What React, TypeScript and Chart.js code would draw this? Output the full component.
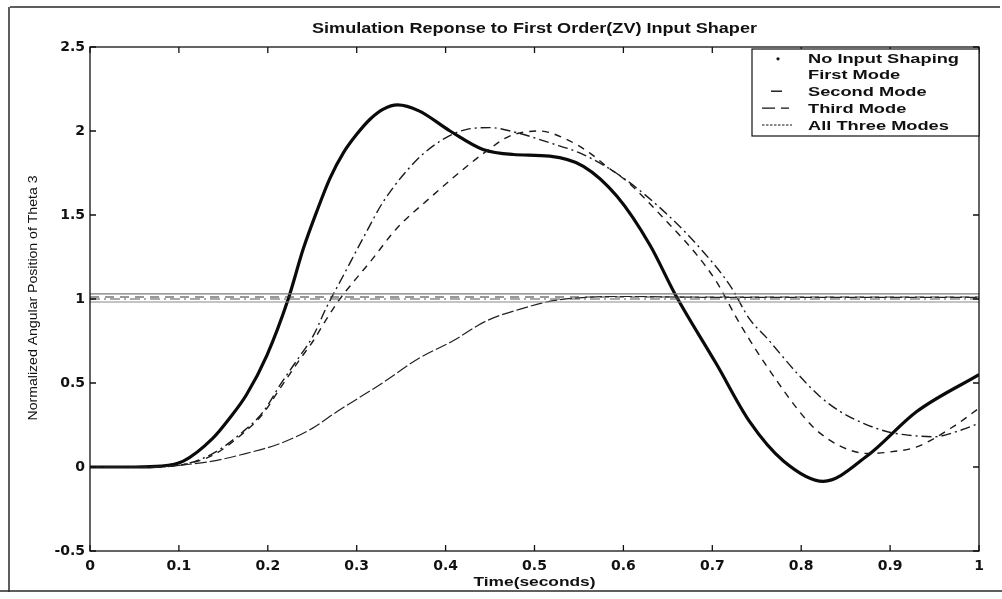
import React, { useEffect, useRef } from "react";
import { Chart, registerables } from "chart.js";

Chart.register(...registerables);

// ---------- text ----------
const titleText = "Simulation Reponse to First Order(ZV) Input Shaper";
const xAxisTitle = "Time(seconds)";
const yAxisTitle = "Normalized Angular Position of Theta 3";
const legendLabels = ["No Input Shaping", "First Mode", "Second Mode", "Third Mode", "All Three Modes"];

// ---------- tick labels ----------
const xTickLabels = ["0", "0.1", "0.2", "0.3", "0.4", "0.5", "0.6", "0.7", "0.8", "0.9", "1"];
const yTickLabels = ["-0.5", "0", "0.5", "1", "1.5", "2", "2.5"];

// ---------- series: No Input Shaping (thick) ----------
const noShapingT = [0, 0.05, 0.08, 0.105, 0.138, 0.157, 0.176, 0.199, 0.223, 0.24, 0.255, 0.27, 0.285, 0.3, 0.315, 0.33, 0.346, 0.37, 0.405, 0.442, 0.476, 0.517, 0.555, 0.593, 0.63, 0.658, 0.705, 0.742, 0.78, 0.825, 0.874, 0.93, 1.0];
const noShapingY = [0, 0, 0.005, 0.035, 0.17, 0.29, 0.43, 0.665, 1.0, 1.3, 1.52, 1.72, 1.87, 1.98, 2.07, 2.13, 2.155, 2.12, 2.0, 1.89, 1.86, 1.85, 1.79, 1.61, 1.32, 1.03, 0.61, 0.27, 0.036, -0.085, 0.065, 0.33, 0.55];

// ---------- series: Second Mode (dash-dot) ----------
const secondModeT = [0, 0.06, 0.1, 0.138, 0.172, 0.195, 0.214, 0.236, 0.251, 0.266, 0.285, 0.311, 0.33, 0.368, 0.397, 0.424, 0.45, 0.48, 0.517, 0.555, 0.6, 0.65, 0.69, 0.72, 0.742, 0.761, 0.795, 0.821, 0.844, 0.87, 0.897, 0.92, 0.95, 0.98, 1.0];
const secondModeY = [0, 0, 0.01, 0.08, 0.21, 0.33, 0.49, 0.66, 0.78, 0.95, 1.14, 1.4, 1.58, 1.83, 1.95, 2.01, 2.02, 1.99, 1.93, 1.86, 1.72, 1.5, 1.28, 1.08, 0.88, 0.77, 0.56, 0.42, 0.33, 0.26, 0.21, 0.19, 0.18, 0.22, 0.26];

// ---------- series: Third Mode (dashed) ----------
const thirdModeT = [0, 0.06, 0.1, 0.138, 0.172, 0.195, 0.214, 0.236, 0.251, 0.266, 0.281, 0.296, 0.315, 0.345, 0.382, 0.424, 0.446, 0.472, 0.506, 0.536, 0.562, 0.581, 0.604, 0.649, 0.683, 0.705, 0.728, 0.75, 0.773, 0.795, 0.813, 0.832, 0.855, 0.875, 0.9, 0.93, 0.971, 1.0];
const thirdModeY = [0, 0, 0.01, 0.07, 0.2, 0.32, 0.47, 0.64, 0.75, 0.88, 1.0, 1.1, 1.22, 1.42, 1.6, 1.79, 1.88, 1.97, 2.0, 1.95, 1.87, 1.79, 1.7, 1.46, 1.26, 1.1, 0.88, 0.69, 0.51, 0.35, 0.24, 0.16, 0.1, 0.08, 0.09, 0.12, 0.24, 0.35];

// ---------- series: All Three Modes (thin, slow) ----------
const allModesT = [0, 0.07, 0.1, 0.138, 0.175, 0.214, 0.25, 0.278, 0.326, 0.371, 0.408, 0.446, 0.484, 0.521, 0.559, 0.6, 0.7, 0.8, 0.9, 1.0];
const allModesY = [0, 0, 0.01, 0.035, 0.08, 0.14, 0.23, 0.33, 0.49, 0.65, 0.75, 0.87, 0.94, 0.99, 1.01, 1.015, 1.01, 1.01, 1.01, 1.01];

// ---------- horizontal band near the final value ----------
const bandT = [0, 1];
const bandLevels = [1.03, 1.012, 1.0, 0.982];

const toPts = (t: number[], y: number[]) => t.map((v, i) => ({ x: v, y: y[i] }));

function drawStretched(ctx: CanvasRenderingContext2D, text: string, x: number, y: number, scaleX: number) {
  ctx.save();
  ctx.translate(x, y);
  ctx.scale(scaleX, 1);
  ctx.fillText(text, 0, 0);
  ctx.restore();
}

const decorPlugin = {
  id: "decor",
  beforeDraw(chart: any) {
    const ctx: CanvasRenderingContext2D = chart.ctx;
    ctx.save();
    ctx.fillStyle = "#ffffff";
    ctx.fillRect(0, 0, chart.width, chart.height);
    // scanned page frame
    ctx.strokeStyle = "#2a2a2a";
    ctx.lineWidth = 1.5;
    ctx.beginPath();
    ctx.moveTo(10, 7);
    ctx.lineTo(1000, 7);
    ctx.moveTo(9, 7);
    ctx.lineTo(9, 592);
    ctx.moveTo(0, 591);
    ctx.lineTo(1002, 591);
    ctx.stroke();
    ctx.restore();
  },
  afterDraw(chart: any) {
    const ctx: CanvasRenderingContext2D = chart.ctx;
    const { left, right, top, bottom } = chart.chartArea;
    const xs = chart.scales.x;
    const ys = chart.scales.y;
    ctx.save();
    // axes box
    ctx.strokeStyle = "#111";
    ctx.lineWidth = 1.3;
    ctx.strokeRect(left, top, right - left, bottom - top);
    // inward ticks
    ctx.beginPath();
    xs.ticks.forEach((t: any) => {
      const px = xs.getPixelForValue(t.value);
      ctx.moveTo(px, bottom);
      ctx.lineTo(px, bottom - 6);
      ctx.moveTo(px, top);
      ctx.lineTo(px, top + 6);
    });
    ys.ticks.forEach((t: any) => {
      const py = ys.getPixelForValue(t.value);
      ctx.moveTo(left, py);
      ctx.lineTo(left + 6, py);
      ctx.moveTo(right, py);
      ctx.lineTo(right - 6, py);
    });
    ctx.stroke();

    ctx.fillStyle = "#111";
    // title
    ctx.font = "bold 14px 'Liberation Sans', Arial, sans-serif";
    ctx.textAlign = "center";
    ctx.textBaseline = "alphabetic";
    const tw = ctx.measureText(titleText).width;
    drawStretched(ctx, titleText, (left + right) / 2, 33, 445 / tw);

    // x axis title
    ctx.font = "bold 12px 'Liberation Sans', Arial, sans-serif";
    const xw = ctx.measureText(xAxisTitle).width;
    drawStretched(ctx, xAxisTitle, (left + right) / 2, 586, 122 / xw);

    // y axis title (rotated)
    ctx.font = "13px 'Liberation Sans', Arial, sans-serif";
    ctx.textBaseline = "middle";
    const yw = ctx.measureText(yAxisTitle).width;
    ctx.save();
    ctx.translate(33, (top + bottom) / 2 - 1);
    ctx.rotate(-Math.PI / 2);
    ctx.scale(245 / yw, 1);
    ctx.fillText(yAxisTitle, 0, 0);
    ctx.restore();

    // legend
    const lx0 = 752, ly0 = 49, lx1 = 979, ly1 = 136;
    ctx.fillStyle = "#fff";
    ctx.fillRect(lx0, ly0, lx1 - lx0, ly1 - ly0);
    ctx.strokeStyle = "#111";
    ctx.lineWidth = 1.2;
    ctx.strokeRect(lx0, ly0, lx1 - lx0, ly1 - ly0);
    ctx.font = "bold 12px 'Liberation Sans', Arial, sans-serif";
    ctx.textAlign = "left";
    ctx.textBaseline = "alphabetic";
    const ls = 151 / ctx.measureText(legendLabels[0]).width;
    ctx.fillStyle = "#111";
    const baselines = [63.3, 78.8, 95.7, 112.6, 129.5];
    legendLabels.forEach((lab, i) => {
      drawStretched(ctx, lab, 808, baselines[i], ls);
    });
    // legend samples
    const sy = (i: number) => baselines[i] - 4.5;
    ctx.beginPath();
    ctx.arc(778, sy(0), 1.6, 0, Math.PI * 2);
    ctx.fill();
    ctx.lineWidth = 1.4;
    ctx.setLineDash([]);
    ctx.beginPath();
    ctx.moveTo(771, sy(2));
    ctx.lineTo(782, sy(2));
    ctx.stroke();
    ctx.setLineDash([13, 6]);
    ctx.beginPath();
    ctx.moveTo(762, sy(3));
    ctx.lineTo(789, sy(3));
    ctx.stroke();
    ctx.setLineDash([2.5, 1.5]);
    ctx.lineWidth = 1.1;
    ctx.beginPath();
    ctx.moveTo(762, sy(4));
    ctx.lineTo(792, sy(4));
    ctx.stroke();
    ctx.restore();
  },
};

export default function App() {
  const ref = useRef<HTMLCanvasElement | null>(null);

  useEffect(() => {
    if (!ref.current) return;
    const bandStyles = [
      { color: "#7a7a7a", dash: [] as number[], width: 1.2 },
      { color: "#333", dash: [9, 6], width: 1.2 },
      { color: "#555", dash: [10, 4, 2, 4], width: 1 },
      { color: "#8a8a8a", dash: [] as number[], width: 1.1 },
    ];
    const bandSets = bandLevels.map((lvl, i) => ({
      label: "band" + i,
      data: toPts(bandT, bandT.map(() => lvl)),
      borderColor: bandStyles[i].color,
      borderDash: bandStyles[i].dash,
      borderWidth: bandStyles[i].width,
      pointRadius: 0,
      tension: 0,
    }));

    const chart = new Chart(ref.current, {
      type: "line",
      data: {
        datasets: [
          ...bandSets,
          {
            label: legendLabels[4],
            data: toPts(allModesT, allModesY),
            borderColor: "#222",
            borderWidth: 1.2,
            borderDash: [12, 3],
            pointRadius: 0,
            cubicInterpolationMode: "monotone",
          },
          {
            label: legendLabels[2],
            data: toPts(secondModeT, secondModeY),
            borderColor: "#1a1a1a",
            borderWidth: 1.4,
            borderDash: [10, 4, 2, 4],
            pointRadius: 0,
            cubicInterpolationMode: "monotone",
          },
          {
            label: legendLabels[3],
            data: toPts(thirdModeT, thirdModeY),
            borderColor: "#1a1a1a",
            borderWidth: 1.4,
            borderDash: [7, 6],
            pointRadius: 0,
            cubicInterpolationMode: "monotone",
          },
          {
            label: legendLabels[0],
            data: toPts(noShapingT, noShapingY),
            borderColor: "#0a0a0a",
            borderWidth: 3.2,
            pointRadius: 0,
            cubicInterpolationMode: "monotone",
          },
        ] as any,
      },
      options: {
        animation: false,
        responsive: false,
        layout: { padding: { left: 0, right: 23, top: 47, bottom: 0 } },
        plugins: {
          legend: { display: false },
          title: { display: false },
          tooltip: { enabled: false },
        },
        scales: {
          x: {
            type: "linear",
            min: 0,
            max: 1,
            grid: { display: false, drawTicks: false },
            border: { display: false },
            ticks: {
              stepSize: 0.1,
              padding: 7,
              color: "#111",
              font: { family: "'DejaVu Sans'", size: 14, weight: "bold" },
              maxRotation: 0,
              autoSkip: false,
              callback: (_v: any, i: number) => xTickLabels[i],
            },
            afterFit: (s: any) => {
              s.height = 48;
            },
          },
          y: {
            type: "linear",
            min: -0.5,
            max: 2.5,
            grid: { display: false, drawTicks: false },
            border: { display: false },
            ticks: {
              stepSize: 0.5,
              padding: 5,
              color: "#111",
              font: { family: "'DejaVu Sans'", size: 14, weight: "bold" },
              autoSkip: false,
              callback: (_v: any, i: number) => yTickLabels[i],
            },
            afterFit: (s: any) => {
              s.width = 90;
            },
          },
        },
      } as any,
      plugins: [decorPlugin],
    });
    return () => chart.destroy();
  }, []);

  return (
    <div style={{ position: "fixed", left: 0, top: 0, width: 1002, height: 599, background: "#fff" }}>
      <canvas ref={ref} width={1002} height={599} style={{ display: "block" }} />
    </div>
  );
}
